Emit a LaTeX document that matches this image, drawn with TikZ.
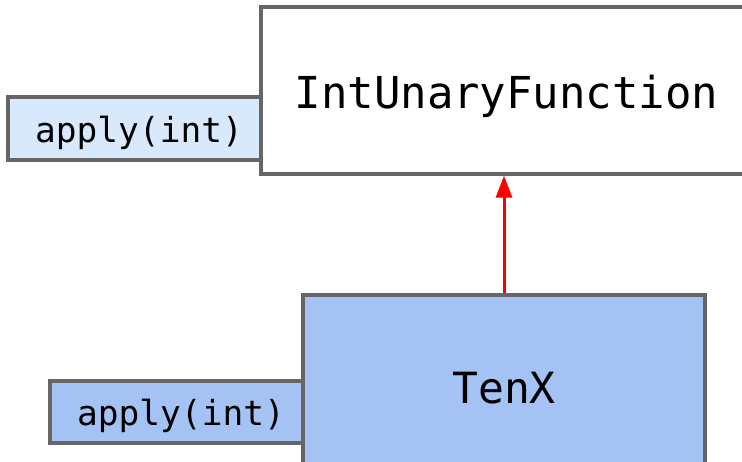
\documentclass[tikz,border=0pt]{standalone}
\usepackage{fontspec}
\setmonofont{DejaVu Sans Mono}
\usepackage{tikz}
\usetikzlibrary{arrows.meta}
\definecolor{edgegray}{HTML}{666666}
\definecolor{paleblue}{HTML}{D8E9FC}
\definecolor{midblue}{HTML}{A4C2F4}
\tikzstyle{every node}=[draw=edgegray,line width=3.2pt,inner sep=0pt,font=\ttfamily]
\tikzstyle{iface}=[fill=white,font=\ttfamily\fontsize{44}{44}\selectfont]
\tikzstyle{impl}=[fill=midblue,font=\ttfamily\fontsize{43}{43}\selectfont]
\tikzstyle{method}=[font=\ttfamily\fontsize{34.5}{34.5}\selectfont]
\newcommand{\lowered}[1]{\raisebox{-6pt}[\height][\depth]{#1}}
\newcommand{\methodtext}[1]{\hspace*{9pt}\raisebox{-4pt}[\height][\depth]{#1}}

\begin{document}
\begin{tikzpicture}[x=1pt,y=-1pt]
  \useasboundingbox (0,0) rectangle (742,462);
  % methods first so the class boxes sit on top
  \node[method,fill=paleblue,minimum width=253pt,minimum height=63pt] (applyTop) at (134.5,128.5) {\methodtext{apply(int)}};
  \node[method,fill=midblue,minimum width=253pt,minimum height=62pt] (applyTen) at (176.5,412) {\methodtext{apply(int)}};
  \node[iface,minimum width=491pt,minimum height=167pt] (unary) at (506.5,90.5) {\lowered{IntUnaryFunction}};
  \node[impl,minimum width=402pt,minimum height=175pt] (tenx) at (504,382.5) {\lowered{TenX}};
  \draw[red,line width=3pt,-{Triangle[length=22pt,width=16pt]}] (tenx.north) -- (tenx.north |- unary.south);
\end{tikzpicture}
\end{document}
